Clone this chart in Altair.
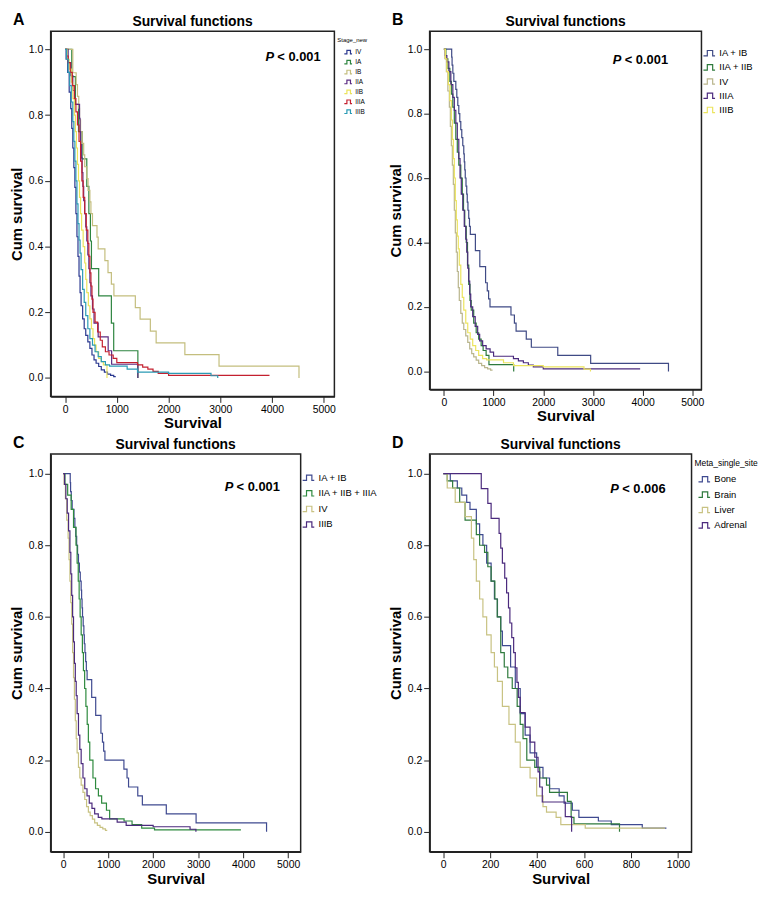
import altair as alt
import pandas as pd

FONT = "Liberation Sans"

# ---------------- Kaplan-Meier curves (time in days, cumulative survival) ----------------
IV_t = [0, 20, 50, 80, 110, 130, 150, 170, 190, 210, 230, 250, 270, 290, 310, 340, 370, 400,
        440, 480, 520, 560, 600, 650, 700, 760, 820, 880, 940, 980]
IV_s = [1.0, 0.97, 0.93, 0.87, 0.82, 0.76, 0.70, 0.64, 0.58, 0.50, 0.43, 0.37, 0.31, 0.26, 0.22,
        0.18, 0.15, 0.13, 0.11, 0.09, 0.07, 0.055, 0.045, 0.035, 0.025, 0.018, 0.012, 0.008, 0.004, 0.004]

IA_t = [0, 130, 200, 260, 330, 420, 460, 490, 510, 650, 895, 940, 1407]
IA_s = [1.0, 0.917, 0.833, 0.75, 0.667, 0.583, 0.5, 0.417, 0.333, 0.25, 0.167, 0.083, 0.0]

IB_t = [0, 150, 215, 240, 265, 280, 300, 330, 360, 380, 420, 445, 480, 500, 530, 617, 640, 770,
        830, 895, 944, 1358, 1450, 1648, 1760, 2315, 2975, 4520]
IB_s = [1.0, 0.929, 0.893, 0.857, 0.821, 0.786, 0.75, 0.714, 0.679, 0.643, 0.607, 0.571, 0.536,
        0.5, 0.464, 0.429, 0.393, 0.357, 0.321, 0.286, 0.25, 0.214, 0.179, 0.143, 0.107, 0.071, 0.036, 0.0]

IIA_t = [0, 60, 110, 150, 185, 280, 290, 300, 315, 330, 345, 360, 380, 400, 420, 440, 460, 480,
         500, 530, 560, 640, 833, 900, 1407]
IIA_s = [1.0, 0.96, 0.92, 0.875, 0.833, 0.79, 0.75, 0.71, 0.67, 0.625, 0.583, 0.54, 0.5, 0.46,
         0.417, 0.375, 0.333, 0.29, 0.25, 0.21, 0.167, 0.125, 0.083, 0.042, 0.0]

IIB_t = [0, 40, 80, 120, 150, 180, 200, 220, 240, 260, 280, 300, 320, 350, 380, 400, 420, 450,
         480, 510, 540, 570, 600, 650, 700, 740, 810]
IIB_s = [1.0, 0.97, 0.94, 0.9, 0.85, 0.8, 0.75, 0.7, 0.65, 0.6, 0.55, 0.5, 0.45, 0.4, 0.35, 0.3,
         0.26, 0.22, 0.18, 0.15, 0.12, 0.1, 0.08, 0.06, 0.05, 0.04, 0.0]

IIIA_t = [0, 30, 60, 100, 140, 180, 210, 240, 270, 300, 325, 350, 380, 410, 440, 460, 480, 500,
          520, 540, 580, 630, 680, 720, 780, 850, 930, 1000, 1400, 1500, 1600, 1700, 1800, 2000, 3950]
IIIA_s = [1.0, 0.98, 0.96, 0.93, 0.89, 0.85, 0.81, 0.77, 0.72, 0.66, 0.6, 0.55, 0.5, 0.45, 0.41,
          0.37, 0.32, 0.28, 0.24, 0.2, 0.17, 0.14, 0.115, 0.095, 0.08, 0.07, 0.06, 0.047, 0.04,
          0.033, 0.027, 0.02, 0.014, 0.008, 0.008]

IIIB_t = [0, 30, 60, 90, 120, 150, 170, 190, 210, 230, 250, 270, 290, 310, 340, 370, 400, 440,
          480, 530, 580, 640, 700, 780, 860, 1200, 1400, 2000, 2820, 2950]
IIIB_s = [1.0, 0.97, 0.93, 0.89, 0.84, 0.78, 0.72, 0.66, 0.6, 0.53, 0.47, 0.42, 0.38, 0.33, 0.27,
          0.23, 0.19, 0.15, 0.12, 0.1, 0.08, 0.065, 0.05, 0.04, 0.036, 0.027, 0.018, 0.014, 0.007, 0.0]

IAIB_t = [0, 157, 165, 180, 200, 240, 260, 280, 300, 320, 340, 360, 380, 400, 410, 420, 430, 445,
          460, 470, 484, 500, 515, 532, 634, 723, 839, 873, 900, 928, 1350, 1419, 1453, 1658, 1760,
          2292, 2954, 4520]
IAIB_s = [1.0, 0.975, 0.95, 0.925, 0.9, 0.875, 0.85, 0.825, 0.8, 0.775, 0.75, 0.725, 0.7, 0.675,
          0.65, 0.625, 0.6, 0.575, 0.55, 0.525, 0.5, 0.475, 0.45, 0.425, 0.375, 0.325, 0.275, 0.25,
          0.225, 0.2, 0.175, 0.15, 0.125, 0.1, 0.075, 0.05, 0.025, 0.0]

IIAIIB_t = [0, 40, 80, 120, 150, 180, 210, 240, 270, 300, 340, 370, 395, 420, 450, 475, 500, 525,
            550, 600, 650, 700, 750, 790, 850, 907, 1405]
IIAIIB_s = [1.0, 0.97, 0.94, 0.9, 0.86, 0.82, 0.77, 0.72, 0.68, 0.64, 0.6, 0.55, 0.5, 0.45, 0.4,
            0.33, 0.27, 0.22, 0.19, 0.15, 0.12, 0.1, 0.08, 0.065, 0.05, 0.021, 0.0]

IIAIIBIIIA_t = [0, 40, 100, 178, 230, 285, 310, 335, 355, 377, 400, 427, 450, 477, 505, 534, 560,
                591, 662, 720, 783, 855, 962, 1033, 1353, 1531, 1745, 2030, 3950]
IIAIIBIIIA_s = [1.0, 0.97, 0.94, 0.9, 0.85, 0.8, 0.75, 0.7, 0.65, 0.6, 0.55, 0.5, 0.45, 0.4, 0.35,
                0.3, 0.25, 0.2, 0.15, 0.12, 0.1, 0.08, 0.06, 0.036, 0.03, 0.02, 0.01, 0.005, 0.005]

BONE_t = [0, 30, 60, 79, 100, 114, 141, 155, 169, 185, 204, 218, 231, 245, 252, 287, 307, 328,
          349, 370, 398, 425, 453, 494, 515, 550, 578, 661, 716, 848, 951]
BONE_s = [1.0, 0.98, 0.96, 0.94, 0.92, 0.9, 0.86, 0.83, 0.8, 0.75, 0.7, 0.65, 0.6, 0.56, 0.52,
          0.46, 0.4, 0.33, 0.27, 0.22, 0.18, 0.15, 0.12, 0.1, 0.08, 0.06, 0.04, 0.03, 0.02, 0.01, 0.01]

BRAIN_t = [0, 17, 40, 70, 93, 141, 155, 176, 190, 204, 220, 230, 245, 260, 275, 294, 315, 328,
           340, 356, 390, 411, 440, 453, 529, 545, 557, 751]
BRAIN_s = [1.0, 0.98, 0.96, 0.92, 0.87, 0.83, 0.8, 0.78, 0.74, 0.7, 0.65, 0.6, 0.5, 0.46, 0.43,
           0.4, 0.35, 0.3, 0.26, 0.2, 0.18, 0.15, 0.13, 0.11, 0.085, 0.04, 0.022, 0.0]

LIVER_t = [0, 17, 51, 93, 120, 130, 141, 155, 169, 185, 204, 218, 231, 252, 280, 307, 328, 370,
           398, 425, 440, 481, 501, 605, 945]
LIVER_s = [1.0, 0.96, 0.92, 0.88, 0.82, 0.76, 0.7, 0.65, 0.6, 0.55, 0.5, 0.46, 0.42, 0.35, 0.3,
           0.25, 0.18, 0.15, 0.1, 0.07, 0.055, 0.04, 0.02, 0.01, 0.01]

ADRENAL_t = [0, 162, 190, 204, 238, 245, 252, 262, 270, 278, 284, 292, 300, 307, 314, 320, 328,
             349, 370, 390, 404, 411, 422, 520, 547]
ADRENAL_s = [1.0, 0.958, 0.917, 0.875, 0.833, 0.792, 0.75, 0.708, 0.667, 0.625, 0.583, 0.542, 0.5,
             0.458, 0.417, 0.375, 0.333, 0.292, 0.25, 0.208, 0.167, 0.125, 0.083, 0.042, 0.0]

# ---------------- panel definitions ----------------
A_groups = ["IV", "IA", "IB", "IIA", "IIB", "IIIA", "IIIB"]
A_colors = ["#2b3990", "#2e8540", "#c4be7e", "#5b2c83", "#ebe35c", "#c4202f", "#2a9bb5"]
A_series = [(IV_t, IV_s), (IA_t, IA_s), (IB_t, IB_s), (IIA_t, IIA_s), (IIB_t, IIB_s),
            (IIIA_t, IIIA_s), (IIIB_t, IIIB_s)]

B_groups = ["IA + IB", "IIA + IIB", "IV", "IIIA", "IIIB"]
B_colors = ["#3f4a85", "#2e7a3c", "#b9b58c", "#4b2a7d", "#ece45e"]
B_series = [(IAIB_t, IAIB_s), (IIAIIB_t, IIAIIB_s), (IV_t, IV_s), (IIIA_t, IIIA_s), (IIIB_t, IIIB_s)]

C_groups = ["IA + IB", "IIA + IIB + IIIA", "IV", "IIIB"]
C_colors = ["#3f4a90", "#2e8a3e", "#c8c282", "#4b2a7d"]
C_series = [(IAIB_t, IAIB_s), (IIAIIBIIIA_t, IIAIIBIIIA_s), (IV_t, IV_s), (IIIB_t, IIIB_s)]

D_groups = ["Bone", "Brain", "Liver", "Adrenal"]
D_colors = ["#3f4a90", "#2e7a3c", "#c8c282", "#4b2a7d"]
D_series = [(BONE_t, BONE_s), (BRAIN_t, BRAIN_s), (LIVER_t, LIVER_s), (ADRENAL_t, ADRENAL_s)]

X_TICKS_LONG = [0, 1000, 2000, 3000, 4000, 5000]
X_TICKS_SHORT = [0, 200, 400, 600, 800, 1000]
Y_TICKS = [0.0, 0.2, 0.4, 0.6, 0.8, 1.0]

STEP = "M-1,0.45H-0.35V-0.45H0.55V0.45H0.95"


def panel(groups, colors, series, xdom, xvals, w, h, letter, pv, pfrac, pdy, leg):
    rows = []
    for g, (t, s) in zip(groups, series):
        rows += [{"time": a, "surv": b, "group": g} for a, b in zip(t, s)]
    df = pd.DataFrame(rows)
    lines = alt.Chart(df).mark_line(interpolate="step-after", strokeWidth=1.2).encode(
        x=alt.X("time:Q", scale=alt.Scale(domain=xdom, nice=False, zero=False),
                axis=alt.Axis(values=xvals, format="d", title="Survival", titlePadding=1)),
        y=alt.Y("surv:Q", scale=alt.Scale(domain=[-0.056, 1.055], nice=False, zero=False),
                axis=alt.Axis(values=Y_TICKS, format=".1f", title="Cum survival", titlePadding=4)),
        color=alt.Color("group:N", scale=alt.Scale(domain=groups, range=colors), legend=leg),
    )
    ann = pd.DataFrame({"letter": [letter], "title": ["Survival functions"], "p": ["P"], "pv": [pv]})
    base = alt.Chart(ann)
    letter_m = base.mark_text(align="left", baseline="alphabetic", font=FONT, fontSize=16,
                              fontWeight="bold", color="black").encode(
        text="letter:N", x=alt.value(-38), y=alt.value(-6))
    title_m = base.mark_text(align="center", baseline="alphabetic", font=FONT, fontSize=14,
                             fontWeight="bold", color="black").encode(
        text="title:N", x=alt.value(w / 2), y=alt.value(-5))
    p_m = base.mark_text(align="left", baseline="alphabetic", font=FONT, fontSize=13,
                         fontWeight="bold", fontStyle="italic", color="black").encode(
        text="p:N", x=alt.value(pfrac * w), y=alt.value(pdy))
    pv_m = base.mark_text(align="left", baseline="alphabetic", font=FONT, fontSize=13,
                          fontWeight="bold", color="black").encode(
        text="pv:N", x=alt.value(pfrac * w + 12), y=alt.value(pdy))
    return alt.layer(lines, letter_m, title_m, p_m, pv_m).properties(width=w, height=h)


WA, HA = 286, 368
WB, HB = 274, 361
WC, HC = 252, 401
WD, HD = 264, 401

legA = alt.Legend(orient="none", legendX=WA + 3, legendY=6, title="Stage_new", titleFontSize=6,
                  titleFontWeight="normal", titlePadding=4, labelFontSize=6.5, symbolSize=64,
                  symbolOffset=6, labelOffset=2, rowPadding=0)
legB = alt.Legend(orient="none", legendX=WB + 1, legendY=15, title=None, labelFontSize=9.5,
                  symbolSize=144, labelOffset=3, rowPadding=1.3)
legC = alt.Legend(orient="none", legendX=WC + 1, legendY=17, title=None, labelFontSize=9.5,
                  symbolSize=144, labelOffset=3, rowPadding=2.7)
legD = alt.Legend(orient="none", legendX=WD + 3, legendY=5, title="Meta_single_site",
                  titleFontSize=8.5, titleFontWeight="normal", titlePadding=5, labelFontSize=9.5,
                  symbolSize=144, symbolOffset=3, labelOffset=3, rowPadding=2.5)

pA = panel(A_groups, A_colors, A_series, [-278, 5204], X_TICKS_LONG, WA, HA, "A", "< 0.001", 0.757, 30, legA)
pB = panel(B_groups, B_colors, B_series, [-287, 5184], X_TICKS_LONG, WB, HB, "B", "< 0.001", 0.674, 33, legB)
pC = panel(C_groups, C_colors, C_series, [-278, 5278], X_TICKS_LONG, WC, HC, "C", "< 0.001", 0.696, 37, legC)
pD = panel(D_groups, D_colors, D_series, [-58, 1058], X_TICKS_SHORT, WD, HD, "D", "< 0.006", 0.69, 39, legD)

chart = alt.concat(pA, pB, pC, pD, columns=2, spacing={"row": 58, "column": 96},
                   bounds="flush", align="each").resolve_scale(
    color="independent", x="independent", y="independent"
).properties(padding=0).configure_view(
    stroke="#222222", strokeWidth=1.5
).configure_axis(
    domainColor="#222222", domainWidth=1.5, tickColor="#222222", tickSize=6, tickWidth=1,
    labelFont=FONT, labelFontSize=10.5, labelColor="#000000", labelPadding=2, labelFlush=False,
    titleFont=FONT, titleFontSize=15, titleFontWeight="bold", titleColor="#000000", grid=False
).configure_legend(
    labelFont=FONT, titleFont=FONT, labelColor="#000000", titleColor="#000000", padding=0,
    symbolType=STEP, symbolStrokeWidth=1.2, symbolFillColor="transparent"
)

chart.save("out.html", embed_options={"renderer": "svg", "actions": False})
